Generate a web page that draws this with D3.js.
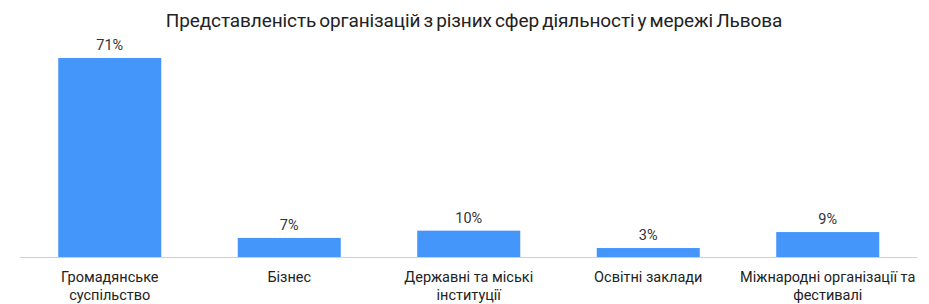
<!DOCTYPE html>
<html><head><meta charset="utf-8">
<script src="https://cdn.jsdelivr.net/npm/d3@7"></script>
<style>body{margin:0;background:#fff;} svg{display:block;}</style>
</head><body>
<svg id="c" width="929" height="304"></svg>
<script>
const title = "Представленість організацій з різних сфер діяльності у мережі Львова";
const categories = [["Громадянське","суспільство"],["Бізнес"],["Державні та міські","інституції"],["Освітні заклади"],["Міжнародні організації та","фестивалі"]];
const values = [71, 6.8, 9.4, 3.2, 8.9];
const valueLabels = ["71%","7%","10%","3%","9%"];

const svg = d3.select("#c");
const x = d3.scaleBand().domain(d3.range(values.length)).range([20, 917.5]).paddingInner(0.426).paddingOuter(0.213);
const y = d3.scaleLinear().domain([0, 71]).range([257, 58]);

svg.append("text").attr("x", 474).attr("y", 27).attr("text-anchor","middle")
  .style("font-family","Roboto, sans-serif").style("font-size","19px").style("letter-spacing","-0.1px").style("word-spacing","-1.5px")
  .style("fill","#222").text(title);

svg.selectAll("rect.bar").data(values).join("rect").attr("class","bar")
  .attr("x",(d,i)=>x(i)).attr("width",x.bandwidth())
  .attr("y",d=>y(d)).attr("height",d=>y(0)-y(d)).attr("fill","#4596fb");

svg.append("line").attr("x1",20).attr("x2",917.5).attr("y1",257.5).attr("y2",257.5).attr("stroke","#d0d0d0").attr("stroke-width",1);

svg.selectAll("text.val").data(values).join("text").attr("class","val")
  .attr("x",(d,i)=>x(i)+x.bandwidth()/2).attr("y",d=>y(d)-8).attr("text-anchor","middle")
  .style("font-family","Roboto, sans-serif").style("font-size","14.5px").style("fill","#333")
  .text((d,i)=>valueLabels[i]);

const lab = svg.selectAll("text.cat").data(categories).join("text").attr("class","cat")
  .attr("x",(d,i)=>x(i)+x.bandwidth()/2).attr("y",282).attr("text-anchor","middle")
  .style("font-family","Roboto, sans-serif").style("font-size","14.5px").style("fill","#222");
lab.selectAll("tspan").data(d=>d).join("tspan")
  .attr("x",function(){return this.parentNode.getAttribute("x");})
  .attr("dy",(d,j)=>j===0?0:18).text(d=>d);
</script>
</body></html>
